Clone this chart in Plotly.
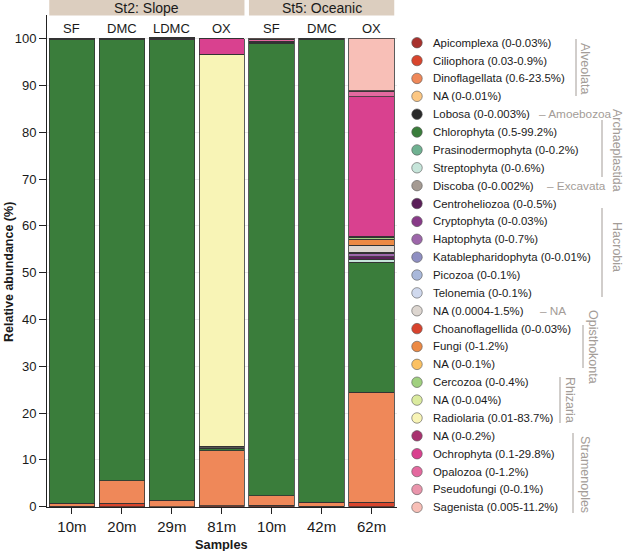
import plotly.graph_objects as go

W, H = 628, 551

# ---------------- data ----------------
samples = ["10m", "20m", "29m", "81m", "10m", "42m", "62m"]
sites = ["SF", "DMC", "LDMC", "OX", "SF", "DMC", "OX"]
stations = ["St2: Slope"] * 4 + ["St5: Oceanic"] * 3

taxa = ["Apicomplexa", "Ciliophora", "Dinoflagellata", "NA", "Lobosa", "Chlorophyta",
        "Prasinodermophyta", "Streptophyta", "Discoba", "Centroheliozoa", "Cryptophyta",
        "Haptophyta", "Katablepharidophyta", "Picozoa", "Telonemia", "NA",
        "Choanoflagellida", "Fungi", "NA", "Cercozoa", "NA", "Radiolaria", "NA",
        "Ochrophyta", "Opalozoa", "Pseudofungi", "Sagenista"]
ranges = ["0-0.03%", "0.03-0.9%", "0.6-23.5%", "0-0.01%", "0-0.003%", "0.5-99.2%",
          "0-0.2%", "0-0.6%", "0-0.002%", "0-0.5%", "0-0.03%", "0-0.7%", "0-0.01%",
          "0-0.1%", "0-0.1%", "0.0004-1.5%", "0-0.03%", "0-1.2%", "0-0.1%", "0-0.4%",
          "0-0.04%", "0.01-83.7%", "0-0.2%", "0.1-29.8%", "0-1.2%", "0-0.1%", "0.005-11.2%"]

apicomplexa = [0, 0, 0, 0.01, 0, 0, 0.03]
ciliophora = [0.05, 0.7, 0.03, 0.2, 0.35, 0.05, 0.9]
dinoflagellata = [0.7, 4.85, 1.4, 11.7, 2.0, 0.9, 23.5]
na_alveolata = [0, 0, 0, 0.01, 0, 0, 0]
lobosa = [0, 0, 0, 0.003, 0, 0, 0]
chlorophyta = [99.1, 94.2, 98.3, 0.5, 96.6, 98.8, 27.65]
prasinodermophyta = [0.02, 0.05, 0.05, 0, 0.1, 0.05, 0.2]
streptophyta = [0.01, 0, 0, 0.05, 0, 0, 0.6]
discoba = [0, 0, 0, 0, 0, 0, 0.002]
centroheliozoa = [0.05, 0.1, 0.2, 0.1, 0.05, 0.1, 0.5]
cryptophyta = [0, 0, 0, 0, 0, 0, 0.03]
haptophyta = [0.02, 0.02, 0.05, 0.05, 0.05, 0.02, 0.7]
katablepharidophyta = [0, 0, 0, 0, 0, 0, 0.01]
picozoa = [0, 0, 0, 0, 0, 0, 0.1]
telonemia = [0, 0, 0, 0, 0, 0, 0.1]
na_unassigned = [0.0004, 0.02, 0.05, 0.2, 0.1, 0.02, 1.5]
choanoflagellida = [0, 0, 0, 0, 0, 0, 0.03]
fungi = [0, 0.02, 0, 0.05, 0, 0, 1.2]
na_opisthokonta = [0, 0, 0, 0, 0, 0, 0.1]
cercozoa = [0, 0, 0, 0.05, 0, 0, 0.4]
na_rhizaria = [0, 0, 0, 0.04, 0, 0, 0.01]
radiolaria = [0.01, 0.02, 0.02, 83.7, 0.05, 0.02, 0.01]
na_stramenopiles = [0, 0, 0, 0, 0, 0, 0.2]
ochrophyta = [0.1, 0.1, 0.15, 3.3, 0.2, 0.1, 29.8]
opalozoa = [0, 0, 0, 0, 0.3, 0, 1.2]
pseudofungi = [0, 0, 0, 0, 0.05, 0, 0.1]
sagenista = [0.005, 0, 0, 0.05, 0.2, 0, 11.2]

series = [apicomplexa, ciliophora, dinoflagellata, na_alveolata, lobosa, chlorophyta,
          prasinodermophyta, streptophyta, discoba, centroheliozoa, cryptophyta,
          haptophyta, katablepharidophyta, picozoa, telonemia, na_unassigned,
          choanoflagellida, fungi, na_opisthokonta, cercozoa, na_rhizaria, radiolaria,
          na_stramenopiles, ochrophyta, opalozoa, pseudofungi, sagenista]

colors = ["#a8312d", "#d9452d", "#ef8859", "#fcc783", "#2a2a2a", "#3a7d3b",
          "#6fb191", "#c6e5da", "#a59b93", "#5b1f59", "#883a88", "#9d66aa",
          "#8f8fc2", "#a9b8da", "#d0d9ee", "#ddd6d0", "#d8432d", "#ec8a45",
          "#fbc163", "#a0d07f", "#dbeb9f", "#f8f4b6", "#a8326f", "#d9418f",
          "#e4699f", "#ea95ac", "#f8bfb7"]

# groups: (label, first row, last row, line x, line y0, line y1, text x, text y, inline)
groups = [
    ("Alveolata", 0, 3, 576, 39, 96, 585, 68, False),
    ("Amoebozoa", 4, 4, 537, 0, 0, 0, 0, True),
    ("Archaeplastida", 5, 7, 602, 120, 177, 617, 150, False),
    ("Excavata", 8, 8, 545, 0, 0, 0, 0, True),
    ("Hacrobia", 9, 14, 602, 208, 297, 617, 247, False),
    ("NA", 15, 15, 538, 0, 0, 0, 0, True),
    ("Opisthokonta", 16, 18, 583, 325, 368, 593, 347, False),
    ("Rhizaria", 19, 21, 560, 377, 423, 570, 400, False),
    ("Stramenoples", 22, 26, 573, 433, 513, 585, 474, False),
]

FONT = "Liberation Sans, Arial, Helvetica, sans-serif"
DARK = "#1a1a1a"
GREY = "#a39c97"


def px(x):
    return x / W


def py(y):
    return 1 - y / H


xs = list(range(len(samples)))
BARGAP = 0.09

fig = go.Figure()
for name, vals, col in zip(taxa, series, colors):
    fig.add_trace(go.Bar(
        x=xs, y=vals, name=name, showlegend=False,
        marker=dict(color=col, line=dict(color="#333333", width=0.8)),
        xaxis="x", yaxis="y"))

# custom legend (markers)
ROW0, ROWH = 42.7, 17.87
rows_y = [ROW0 + i * ROWH for i in range(len(taxa))]
fig.add_trace(go.Scatter(
    x=[417] * len(taxa), y=rows_y, mode="markers", showlegend=False,
    marker=dict(size=10.5, color=colors, line=dict(color="#555555", width=0.6)),
    xaxis="x2", yaxis="y2", hoverinfo="skip"))

annotations = []
for i, (t, r) in enumerate(zip(taxa, ranges)):
    annotations.append(dict(
        x=px(431), y=py(rows_y[i]), xref="paper", yref="paper",
        text=f"{t} ({r})", showarrow=False, xanchor="left", yanchor="middle",
        font=dict(size=11.4, color=DARK, family=FONT)))

shapes = []
for (lab, r0, r1, lx, ly0, ly1, tx, ty, inline) in groups:
    if inline:
        annotations.append(dict(
            x=px(lx), y=py(rows_y[r0]), xref="paper", yref="paper",
            text=f"– {lab}", showarrow=False, xanchor="left", yanchor="middle",
            font=dict(size=11.8, color=GREY, family=FONT)))
    else:
        shapes.append(dict(type="line", xref="paper", yref="paper",
                           x0=px(lx), x1=px(lx), y0=py(ly0), y1=py(ly1),
                           line=dict(color=GREY, width=1)))
        annotations.append(dict(
            x=px(tx), y=py(ty), xref="paper", yref="paper", text=lab,
            showarrow=False, textangle=90, xanchor="center", yanchor="middle",
            font=dict(size=12.5, color=GREY, family=FONT)))

# station header strips
station_names = []
for s in stations:
    if s not in station_names:
        station_names.append(s)
for s in station_names:
    idx = [i for i, v in enumerate(stations) if v == s]
    x0 = idx[0] - 0.5 + BARGAP / 2
    x1 = idx[-1] + 0.5 - BARGAP / 2
    shapes.append(dict(type="rect", xref="x", yref="paper", x0=x0, x1=x1,
                       y0=py(15.5), y1=py(0), fillcolor="#dccebf",
                       line=dict(width=0), layer="below"))
    annotations.append(dict(x=(x0 + x1) / 2, y=py(7.8), xref="x", yref="paper",
                            text=s, showarrow=False, yanchor="middle",
                            font=dict(size=14, color=DARK, family=FONT)))

for i, s in enumerate(sites):
    annotations.append(dict(x=i, y=py(29), xref="x", yref="paper", text=s,
                            showarrow=False, yanchor="middle",
                            font=dict(size=13, color=DARK, family=FONT)))

# axis titles
annotations.append(dict(x=px(9), y=py(272), xref="paper", yref="paper",
                        text="<b>Relative abundance (%)</b>", textangle=-90,
                        showarrow=False, xanchor="center", yanchor="middle",
                        font=dict(size=12.5, color=DARK, family=FONT)))
annotations.append(dict(x=px(222), y=py(544), xref="paper", yref="paper",
                        text="<b>Samples</b>", showarrow=False,
                        xanchor="center", yanchor="middle",
                        font=dict(size=12.8, color=DARK, family=FONT)))

Y0, Y100 = 506.7, 38.7
ppu = (Y0 - Y100) / 100
ymax = 105

fig.update_layout(
    width=W, height=H, barmode="stack", bargap=BARGAP,
    margin=dict(l=0, r=0, t=0, b=0, autoexpand=False),
    paper_bgcolor="white", plot_bgcolor="rgba(0,0,0,0)",
    font=dict(family=FONT, color=DARK),
    xaxis=dict(domain=[px(47), px(396.5)], range=[-0.5, len(samples) - 0.5],
               tickvals=xs, ticktext=samples, showline=True, linecolor="#222",
               linewidth=1, ticks="outside", ticklen=6, tickcolor="#222",
               tickfont=dict(size=15, color=DARK, family=FONT), showgrid=False,
               zeroline=False, automargin=False, fixedrange=True),
    yaxis=dict(domain=[py(Y0), py(Y0 - ymax * ppu)], range=[0, ymax],
               tickvals=list(range(0, 101, 10)), showline=True, linecolor="#222",
               linewidth=1, ticks="outside", ticklen=7, tickcolor="#222",
               tickfont=dict(size=13, color=DARK, family=FONT), showgrid=True,
               gridcolor="#e8e8e8", gridwidth=1, zeroline=False,
               automargin=False, fixedrange=True),
    xaxis2=dict(domain=[0, 1], range=[0, W], visible=False, anchor="y2",
                fixedrange=True),
    yaxis2=dict(domain=[0, 1], range=[H, 0], visible=False, anchor="x2",
                fixedrange=True),
    shapes=shapes, annotations=annotations,
)

fig.write_html("out.html")
